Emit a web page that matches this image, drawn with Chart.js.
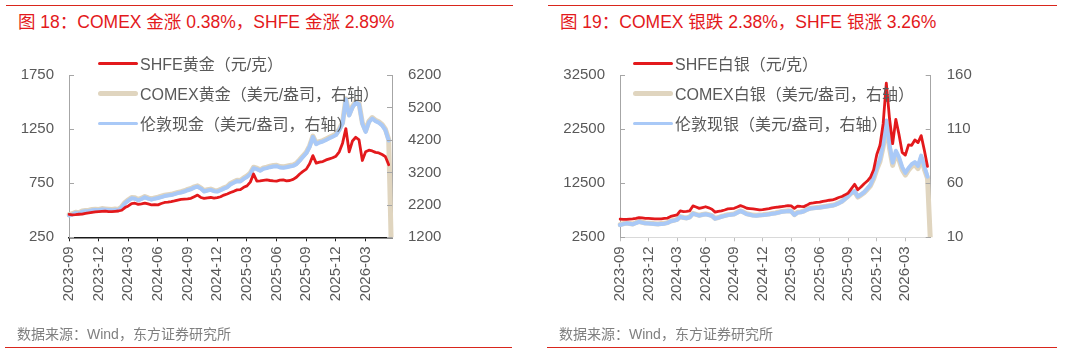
<!DOCTYPE html>
<html>
<head>
<meta charset="utf-8">
<script src="https://cdn.jsdelivr.net/npm/chart.js@4.4.1/dist/chart.umd.min.js"></script>
<style>
    body { margin: 0; width: 1068px; height: 354px; background: #fff; position: relative; overflow: hidden;
           font-family: "Liberation Sans", "Noto Sans CJK SC", sans-serif; }
    canvas { position: absolute; top: 0; }
    .rule { position: absolute; height: 1px; background: #d9261c; }
    .title { position: absolute; top: 8px; font-size: 17.5px; color: #e3191c; white-space: nowrap; }
    .source { position: absolute; top: 323px; font-size: 14px; color: #7f7f7f; white-space: nowrap; }
    .legend-row { position: absolute; height: 20px; display: flex; align-items: center;
                  font-size: 16px; color: #595959; white-space: nowrap; }
    .swatch { display: inline-block; width: 40px; border-radius: 3px; margin-right: 2px; }
</style>
</head>
<body>

<div class="rule" style="left:6px; top:5px; width:507px;"></div>
<div class="rule" style="left:548px; top:5px; width:509px;"></div>
<div class="rule" style="left:5px; top:347px; width:507px;"></div>
<div class="rule" style="left:547px; top:347px; width:510px;"></div>

<div class="title" style="left:18px;">图 18：COMEX 金涨 0.38%，SHFE 金涨 2.89%</div>
<div class="title" style="left:560px;">图 19：COMEX 银跌 2.38%，SHFE 银涨 3.26%</div>

<canvas id="gold-chart" width="534" height="354" style="left:0;"></canvas>
<canvas id="silver-chart" width="534" height="354" style="left:534px;"></canvas>

<div class="legend-row" style="left:98px; top:53px;"><span class="swatch" style="height:3px;background:#e3191c;"></span>SHFE黄金（元/克）</div>
<div class="legend-row" style="left:98px; top:83px;"><span class="swatch" style="height:5px;background:#e0d5bf;"></span>COMEX黄金（美元/盎司，右轴）</div>
<div class="legend-row" style="left:98px; top:113px;"><span class="swatch" style="height:3px;background:#a9c9f7;"></span>伦敦现金（美元/盎司，右轴）</div>

<div class="legend-row" style="left:633px; top:53px;"><span class="swatch" style="height:3px;background:#e3191c;"></span>SHFE白银（元/克）</div>
<div class="legend-row" style="left:633px; top:83px;"><span class="swatch" style="height:5px;background:#e0d5bf;"></span>COMEX白银（美元/盎司，右轴）</div>
<div class="legend-row" style="left:633px; top:113px;"><span class="swatch" style="height:3px;background:#a9c9f7;"></span>伦敦现银（美元/盎司，右轴）</div>

<div class="source" style="left:17px;">数据来源：Wind，东方证券研究所</div>
<div class="source" style="left:559px;">数据来源：Wind，东方证券研究所</div>

<script>
// Sample dates (three per month)
const dates = [
    '2023-09-01','2023-09-11','2023-09-21','2023-10-01','2023-10-11','2023-10-21',
    '2023-11-01','2023-11-11','2023-11-21','2023-12-01','2023-12-11','2023-12-21',
    '2024-01-01','2024-01-11','2024-01-21','2024-02-01','2024-02-11','2024-02-21',
    '2024-03-01','2024-03-11','2024-03-21','2024-04-01','2024-04-11','2024-04-21',
    '2024-05-01','2024-05-11','2024-05-21','2024-06-01','2024-06-11','2024-06-21',
    '2024-07-01','2024-07-11','2024-07-21','2024-08-01','2024-08-11','2024-08-21',
    '2024-09-01','2024-09-11','2024-09-21','2024-10-01','2024-10-11','2024-10-21',
    '2024-11-01','2024-11-11','2024-11-21','2024-12-01','2024-12-11','2024-12-21',
    '2025-01-01','2025-01-11','2025-01-21','2025-02-01','2025-02-11','2025-02-21',
    '2025-03-01','2025-03-11','2025-03-21','2025-04-01','2025-04-11','2025-04-21',
    '2025-05-01','2025-05-11','2025-05-21','2025-06-01','2025-06-11','2025-06-21',
    '2025-07-01','2025-07-11','2025-07-21','2025-08-01','2025-08-11','2025-08-21',
    '2025-09-01','2025-09-11','2025-09-21','2025-10-01','2025-10-11','2025-10-21',
    '2025-11-01','2025-11-11','2025-11-21','2025-12-01','2025-12-11','2025-12-21',
    '2026-01-01','2026-01-11','2026-01-21','2026-02-01','2026-02-11','2026-02-21',
    '2026-03-01','2026-03-11','2026-03-21','2026-04-01','2026-04-11','2026-04-21',
    '2026-05-01','2026-05-11','2026-05-21'
];

// Months that get an x axis label
const tickMonths = ['2023-09','2023-12','2024-03','2024-06','2024-09','2024-12',
                    '2025-03','2025-06','2025-09','2025-12','2026-03'];

// Gold: SHFE (yuan/g, left axis), COMEX and London spot (USD/oz, right axis)
const shfeGold = [
    462,458,460,463,465,472,476,480,484,487,
    490,492,488,487,490,493,500,525,540,562,
    565,555,560,566,558,550,552,550,562,572,
    575,580,586,594,600,603,605,610,625,640,
    618,610,615,618,612,616,625,640,650,664,
    675,688,690,712,725,760,835,770,772,776,
    780,775,772,770,778,780,772,775,785,805,
    835,860,880,930,1005,935,945,950,965,975,
    985,1000,1040,1120,1255,1040,1140,1175,1150,960,
    1040,1055,1048,1035,1030,1015,995,920
];
const comexGold = [
    1895,1925,1975,1955,2010,2025,2035,2055,2065,2060,
    2085,2075,2065,2055,2070,2060,2145,2275,2355,2425,
    2415,2365,2405,2455,2415,2385,2415,2435,2465,2495,
    2515,2525,2555,2585,2605,2635,2675,2705,2755,2785,
    2725,2635,2665,2685,2645,2635,2675,2725,2765,2860,
    2910,2960,2950,3030,3090,3180,3360,3330,3280,3340,
    3360,3390,3410,3420,3380,3370,3390,3410,3430,3480,
    3590,3710,3820,4020,4320,4100,4150,4180,4230,4280,
    4330,4380,4530,4730,5470,4980,5230,5380,5330,4730,
    4480,4780,4890,4810,4760,4680,4530,4210,0
];
const londonGold = [
    1870,1900,1950,1930,1985,2000,2010,2030,2040,2035,
    2060,2050,2040,2030,2045,2035,2120,2250,2330,2400,
    2390,2340,2380,2430,2390,2360,2390,2410,2440,2470,
    2490,2500,2530,2560,2580,2610,2650,2680,2730,2760,
    2700,2610,2640,2660,2620,2610,2650,2700,2740,2830,
    2880,2930,2920,3000,3060,3150,3330,3300,3250,3310,
    3330,3360,3380,3390,3350,3340,3360,3380,3400,3450,
    3560,3680,3790,3990,4290,4070,4120,4150,4200,4250,
    4300,4350,4500,4700,5450,4950,5200,5350,5300,4700,
    4450,4750,4860,4780,4730,4650,4500,4180
];

// Silver: SHFE (yuan/kg, left axis), COMEX and London spot (USD/oz, right axis)
const shfeSilver = [
    5850,5800,5830,5870,5900,6000,6130,6080,6010,5980,
    5950,5900,5890,5920,5980,6050,6350,6500,6650,7400,
    7250,7300,7400,8300,8100,7850,8000,8150,7950,7700,
    7150,7300,7380,7550,7740,7800,7860,8100,8350,8150,
    7870,7800,7740,7650,7560,7600,7700,7800,7950,8050,
    8100,8170,8250,8350,8300,7860,8280,8200,8170,8450,
    8780,8850,8950,9000,9150,9250,9350,9400,9600,9850,
    10050,10350,10700,11500,12300,11300,11800,12400,12900,13600,
    15000,17800,19500,23500,31000,24500,19800,24300,21500,18200,
    17700,19600,19500,20500,20000,21300,18600,15600
];
const comexSilver = [
    21.7,22.5,23.2,22.8,22.3,23.5,24.6,23.9,23.2,23.1,
    22.9,22.6,22.3,22.7,22.9,23.6,25.1,25.7,26.5,29.2,
    28.3,27.9,28.8,32.1,31.2,30.3,31.1,31.6,30.9,30.1,
    27.5,28.3,29.3,30.1,30.8,31.2,31.6,33.1,34.5,33.3,
    31.7,31.1,30.5,30.3,30.7,30.9,31.2,31.6,32.1,32.5,
    33.1,33.9,34.2,34.5,34.3,30.9,33.1,33.5,34.3,35.8,
    36.9,37.2,37.5,37.8,38.3,38.7,39.2,39.6,40.5,41.8,
    43.3,45.8,48.2,51.0,52.2,47.2,49.0,51.2,54.2,57.6,
    64.0,72.8,80.0,93.5,115.0,92.5,76.5,87.0,81.5,72.5,
    67.5,72.0,75.5,77.0,73.5,83.0,73.0,64.5,0
];
const londonSilver = [
    21.4,22.2,22.9,22.5,22.0,23.2,24.3,23.6,22.9,22.8,
    22.6,22.3,22.0,22.4,22.6,23.3,24.8,25.4,26.2,28.9,
    28.0,27.6,28.5,31.8,30.9,30.0,30.8,31.3,30.6,29.8,
    27.2,28.0,29.0,29.8,30.5,30.9,31.3,32.8,34.2,33.0,
    31.4,30.8,30.2,30.0,30.4,30.6,30.9,31.3,31.8,32.2,
    32.8,33.6,33.9,34.2,34.0,30.6,32.8,33.2,34.0,35.5,
    36.6,36.9,37.2,37.5,38.0,38.4,38.9,39.3,40.2,41.5,
    43.0,45.5,48.0,51.0,52.6,47.8,49.5,51.8,55.0,58.6,
    65.5,74.5,82.0,96.0,118.0,96.0,79.0,90.0,84.0,75.0,
    69.5,74.0,77.5,79.5,76.0,85.5,75.5,66.0
];

const RED = '#e3191c';
const TAN = '#e0d5bf';
const BLUE = '#a9c9f7';
const AXIS_GRAY = '#a6a6a6';
const FONT = '"Liberation Sans", "Noto Sans CJK SC", sans-serif';

function isLabelled(i) {
    const d = dates[i];
    return d && d.endsWith('-01') && tickMonths.includes(d.slice(0, 7));
}

// Short tick marks on the y axes, pointing into the plot
const innerTicksPlugin = {
    id: 'innerTicks',
    afterDraw(chart) {
        const ctx = chart.ctx;
        ['yL', 'yR'].forEach(id => {
            const scale = chart.scales[id];
            ctx.save();
            ctx.strokeStyle = AXIS_GRAY;
            ctx.lineWidth = 1;
            scale.ticks.forEach(t => {
                const y = Math.round(scale.getPixelForValue(t.value)) + 0.5;
                const x0 = id === 'yL' ? scale.right : scale.left;
                const dir = id === 'yL' ? 1 : -1;
                ctx.beginPath();
                ctx.moveTo(x0, y);
                ctx.lineTo(x0 + dir * 5, y);
                ctx.stroke();
            });
            ctx.restore();
        });
    }
};

function createMetalChart(elementId, series, opts) {
    const canvas = document.getElementById(elementId);
    if (!canvas) return;

    const line = (data, color, width, axis, order) => ({
        data: data,
        borderColor: color,
        borderWidth: width,
        yAxisID: axis,
        order: order,
        pointRadius: 0,
        tension: 0,
        borderJoinStyle: 'round',
        borderCapStyle: 'round',
        fill: false
    });

    const yTicks = step => ({
        stepSize: step,
        color: '#595959',
        font: { family: FONT, size: 15 },
        callback: v => String(v)
    });

    new Chart(canvas, {
        type: 'line',
        data: {
            labels: dates,
            datasets: [
                line(series.shfe, RED, 2.8, 'yL', 0),
                line(series.london, BLUE, 4, 'yR', 1),
                line(series.comex, TAN, 5, 'yR', 2)
            ]
        },
        options: {
            responsive: false,
            animation: false,
            layout: {
                padding: { left: 0, right: opts.padRight, top: 75, bottom: 36.7 }
            },
            scales: {
                x: {
                    type: 'category',
                    offset: false,
                    afterFit: s => { s.height = 80; },
                    border: { display: true, color: opts.xAxisColor, width: opts.xAxisWidth },
                    grid: {
                        drawOnChartArea: false,
                        drawTicks: true,
                        tickLength: 4,
                        tickColor: c => isLabelled(c.index) ? opts.xTickColor : 'rgba(0,0,0,0)'
                    },
                    ticks: {
                        autoSkip: false,
                        minRotation: 90,
                        maxRotation: 90,
                        padding: 5,
                        color: '#595959',
                        font: { family: FONT, size: 15 },
                        callback: (value, index) => isLabelled(index) ? dates[index].slice(0, 7) : ''
                    }
                },
                yL: {
                    position: 'left',
                    min: opts.leftMin,
                    max: opts.leftMax,
                    afterFit: s => { s.width = opts.leftWidth; },
                    border: { display: true, color: AXIS_GRAY, width: 1 },
                    grid: { drawOnChartArea: false, drawTicks: false },
                    ticks: Object.assign(yTicks(opts.leftStep), { padding: 15 })
                },
                yR: {
                    position: 'right',
                    min: opts.rightMin,
                    max: opts.rightMax,
                    afterFit: s => { s.width = 60; },
                    border: { display: true, color: AXIS_GRAY, width: 1 },
                    grid: { drawOnChartArea: false, drawTicks: false },
                    ticks: Object.assign(yTicks(opts.rightStep), { padding: 16 })
                }
            },
            plugins: {
                legend: { display: false },
                tooltip: { enabled: false }
            }
        },
        plugins: [innerTicksPlugin]
    });
}

createMetalChart('gold-chart',
    { shfe: shfeGold, comex: comexGold, london: londonGold },
    { leftMin: 250, leftMax: 1750, leftStep: 500, rightMin: 1200, rightMax: 6200, rightStep: 1000,
      leftWidth: 69, padRight: 82, xAxisColor: '#1a1a1a', xAxisWidth: 1.5, xTickColor: '#1a1a1a' });

createMetalChart('silver-chart',
    { shfe: shfeSilver, comex: comexSilver, london: londonSilver },
    { leftMin: 2500, leftMax: 32500, leftStep: 10000, rightMin: 10, rightMax: 160, rightStep: 50,
      leftWidth: 86, padRight: 77.3, xAxisColor: '#d9d9d9', xAxisWidth: 1, xTickColor: '#bfbfbf' });
</script>
</body>
</html>
